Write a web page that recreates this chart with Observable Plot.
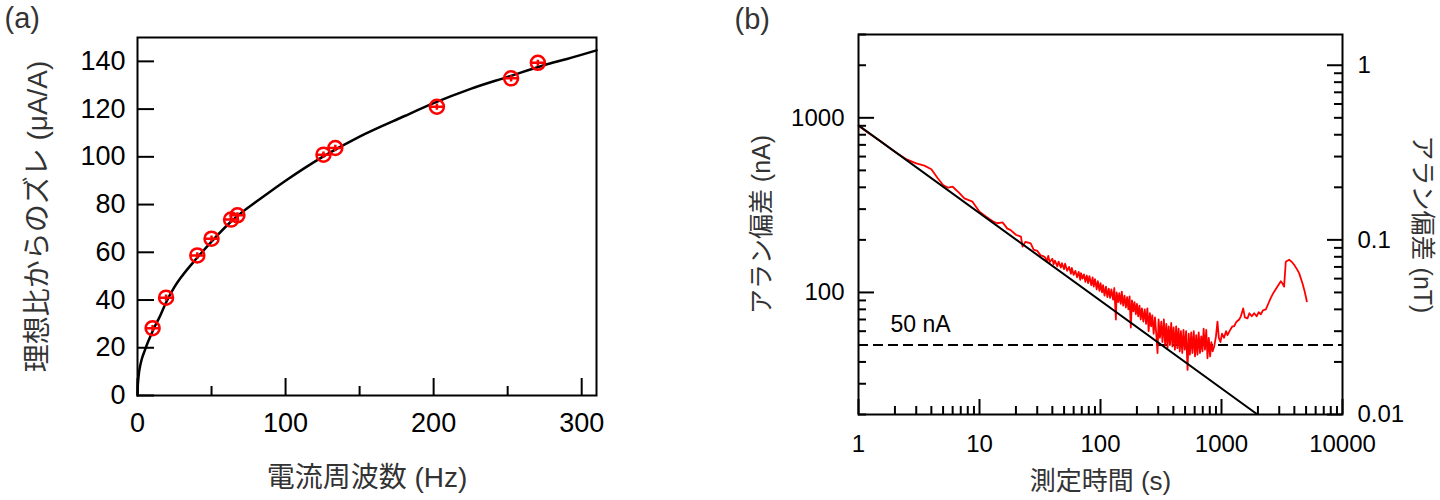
<!DOCTYPE html>
<html><head><meta charset="utf-8">
<script src="https://cdn.jsdelivr.net/npm/d3@7"></script>
<script src="https://cdn.jsdelivr.net/npm/@observablehq/plot@0.6"></script>
<style>
body{margin:0;background:#fff;}
#wrap{display:flex;width:1440px;height:500px;}
#wrap svg{display:block;flex:none;}
</style></head><body><div id="wrap"></div>
<script>
// ---------- Panel (a) data ----------
const freqHz    = [10.2, 19.3, 40.4, 50, 63.2, 67.5, 125.6, 133.6, 202.2, 252.3, 270.4];
const deviation = [28.2, 41.0, 58.7, 65.7, 73.7, 75.5, 100.9, 103.7, 121.0, 132.9, 139.4];
const fitF = [0, 0.2, 0.5, 1, 2, 3, 5, 7, 9, 12, 15, 19.3, 25, 30, 40, 50, 62.5, 70, 82, 100, 125, 150, 180, 200, 225, 250, 275, 290, 310];
const fitV = [0, 4, 6.5, 9.5, 13, 15.5, 19, 22.3, 25.2, 29.3, 33, 39, 45.5, 50, 57.5, 64.5, 72.5, 76.5, 82, 90, 100, 108.5, 117, 122.5, 128.5, 133.5, 138.5, 141, 144.6];
const xTicksA = [0, 100, 200, 300];
const xMinorA = [50, 150, 250];
const yTicksA = [0, 20, 40, 60, 80, 100, 120, 140];

// ---------- Panel (b) data ----------
const redTau = [1,1.2,1.5,2,2.5,3,3.5,4,4.5,5,5.5,6,6.8,7.5,8.75,10,11,12,13,14,15.5,17,18,20,22,22.7,24,26.5,28,30,32,34,
35,36,37,38,40,41,42,44,45,47,48,50,51,53,55,57,58,60,62,64,66,68,69,71,73,75,77,79,81,84,86,88,90,93,95,98,100,103,105,108,111,114,117,120,123,127,130,134,136,140,143,147,150,154,158,162,166,170,174,178,182,187,191,196,200,205,210,215,220,226,232,238,244,250,256,262,268,275,282,290,296,302,310,318,325,334,342,350,358,366,375,384,393,402,412,422,432,442,452,462,474,485,497,510,524,536,548,562,575,590,604,618,633,648,664,680,696,712,730,748,766,785,805,825,845,870,900,926,950,980,1010,1050,1090,1121,1180,1230,1271,1330,1400,1445,1510,1560,1640,1700,1780,1862,1950,2030,2113,2200,2325,2450,2555,2700,2901,3000,3091,3200,3291,3398,3620,3800,3984,4200,4380,4667,4876,5070];
const redSigma = [900,822,738,640,578,548,532,508,452,412,398,403,372,346,331,290,276,264,255,249,252,232,228,214,209,183,195,191,176,173,163,161,
158,150,162,149,156,145,152,141,150,139,147,136,146,133,140,128,138,126,133,122,131,118,129,120,127,115,125,113,124,110,122,108,119,104,116,102,113,100,110,96,108,94,105,93,104,91,106,70,100,88,99,86,101,84,96,82,94,80,95,63,90,78,88,75,86,73,84,70,81,68,80,66,81,60,76,64,74,58,72,56,45,70,55,68,52,70,50,66,48,64,50,67,49,63,47,64,48,62,46,60,45,61,47,60,36,58,44,59,45,60,43,57,44,59,45,56,46,62,47,61,42,55,43,52,46,49,56,68,55,52,58,55,60,57,61,64,64,68,70,73,81,72,71,76,73,76,73,77,75,79,80,87,93,100,108,112,116,112,108,150,154,150,144,136,129,113,101,89];
const powerTau = [1, 1985];
const powerSigma = [905, 20];
const limitNA = 50;
const nAperNT = 2000;
const xTicksB = [1, 10, 100, 1000, 10000];
const xMinorB = [2,3,4,5,6,7,8,9,20,30,40,50,60,70,80,90,200,300,400,500,600,700,800,900,2000,3000,4000,5000,6000,7000,8000,9000];
const yTicksB = [100, 1000];
const yMinorB = [20,30,40,50,60,70,80,90,200,300,400,500,600,700,800,900,2000,3000];
const nTTicks = [0.01, 0.1, 1];
const nTMinor = [0.02,0.03,0.04,0.05,0.06,0.07,0.08,0.09,0.2,0.3,0.4,0.5,0.6,0.7,0.8,0.9];

const FONT = "'Liberation Sans', 'Noto Sans CJK JP', Arial, sans-serif";
const titleFill = "#333";

const markerSym = {draw(ctx, size){
  const r = Math.sqrt(size/Math.PI);
  ctx.moveTo(r,0); ctx.arc(0,0,r,0,2*Math.PI);
  ctx.moveTo(-r,0); ctx.lineTo(r,0);
  ctx.moveTo(0,-r*0.45); ctx.lineTo(0,r*0.45);
}};

// ---------- Panel (a) ----------
const A = {w:720,h:500,ml:137,mr:124,mt:37,mb:105};
const aPH = A.h-A.mt-A.mb, aPW = A.w-A.ml-A.mr;
const aX = [0,310], aY = [0,150];
const pts = freqHz.map((f,i)=>({f, v: deviation[i]}));
const fit = fitF.map((f,i)=>({f, v: fitV[i]}));
const aTy = (px)=> aY[0] + px/aPH*(aY[1]-aY[0]);
const aTx = (px)=> aX[0] + px/aPW*(aX[1]-aX[0]);
const tickStyle = {stroke:"#000", strokeWidth:2};
const left = Plot.plot({
  width:A.w, height:A.h, marginLeft:A.ml, marginRight:A.mr, marginTop:A.mt, marginBottom:A.mb,
  x:{domain:aX}, y:{domain:aY},
  style:{fontFamily:FONT, color:"#000", background:"#fff", overflow:"visible"},
  marks:[
    Plot.axisX({ticks:xTicksA, tickSize:0, tickPadding:17, fontSize:27, label:null, tickFormat:d=>String(d)}),
    Plot.axisY({ticks:yTicksA, tickSize:0, tickPadding:12, fontSize:27, label:null, tickFormat:d=>String(d)}),
    Plot.ruleX(xTicksA, {x:d=>d, y1:aY[0], y2:aTy(17), ...tickStyle}),
    Plot.ruleX(xMinorA, {x:d=>d, y1:aY[0], y2:aTy(9), ...tickStyle}),
    Plot.ruleY(yTicksA, {y:d=>d, x1:aX[0], x2:aTx(17), ...tickStyle}),
    Plot.line(fit, {x:"f", y:"v", curve:"monotone-x", stroke:"#000", strokeWidth:2.5}),
    Plot.dot(pts, {x:"f", y:"v", r:7, symbol:markerSym, stroke:"#f00", strokeWidth:2.5, fill:"none"}),
    Plot.frame({stroke:"#000", strokeWidth:2}),
    Plot.text(["電流周波数 (Hz)"], {frameAnchor:"bottom", dy:83, lineAnchor:"middle", textAnchor:"middle", fontSize:28, fill:titleFill}),
    Plot.text(["理想比からのズレ (μA/A)"], {frameAnchor:"left", dx:-99, rotate:-90, lineAnchor:"middle", textAnchor:"middle", fontSize:28, fill:titleFill}),
    Plot.text(["(a)"], {frameAnchor:"top-left", dx:-133, dy:-19, lineAnchor:"middle", textAnchor:"start", fontSize:29, fill:titleFill})
  ]
});

// ---------- Panel (b) ----------
const B = {w:720,h:500,ml:138,mr:98,mt:34,mb:86};
const bPH = B.h-B.mt-B.mb, bPW = B.w-B.ml-B.mr;
const bX = [1,10000], bY = [20,3000];
const lx = Math.log10(bX[1]/bX[0]), ly = Math.log10(bY[1]/bY[0]);
const bTy = (px)=> bY[0]*Math.pow(10, px/bPH*ly);
const bTxL = (px)=> bX[0]*Math.pow(10, px/bPW*lx);
const bTxR = (px)=> bX[1]/Math.pow(10, px/bPW*lx);
const red = redTau.map((t,i)=>({t, s: redSigma[i]}));
const pow = powerTau.map((t,i)=>({t, s: powerSigma[i]}));
const nTpos = nTTicks.map(t=>t*nAperNT);
const nTminPos = nTMinor.map(t=>t*nAperNT);
const right = Plot.plot({
  width:B.w, height:B.h, marginLeft:B.ml, marginRight:B.mr, marginTop:B.mt, marginBottom:B.mb,
  x:{type:"log", domain:bX}, y:{type:"log", domain:bY},
  style:{fontFamily:FONT, color:"#000", background:"#fff", overflow:"visible"},
  marks:[
    Plot.axisX({ticks:xTicksB, tickSize:0, tickPadding:20, fontSize:24, label:null, tickFormat:d=>String(d)}),
    Plot.axisY({ticks:yTicksB, tickSize:0, tickPadding:14, fontSize:24, label:null, tickFormat:d=>String(d)}),
    Plot.axisY({anchor:"right", ticks:nTpos, tickSize:0, tickPadding:15, fontSize:24, label:null, tickFormat:d=>String(+(d/nAperNT).toPrecision(3))}),
    Plot.ruleX(xTicksB, {x:d=>d, y1:bY[0], y2:bTy(15), ...tickStyle}),
    Plot.ruleX(xMinorB, {x:d=>d, y1:bY[0], y2:bTy(8), ...tickStyle}),
    Plot.ruleY(yTicksB, {y:d=>d, x1:bX[0], x2:bTxL(16), ...tickStyle}),
    Plot.ruleY(yMinorB, {y:d=>d, x1:bX[0], x2:bTxL(8), ...tickStyle}),
    Plot.ruleY(nTpos, {y:d=>d, x1:bTxR(15), x2:bX[1], ...tickStyle}),
    Plot.ruleY(nTminPos, {y:d=>d, x1:bTxR(8), x2:bX[1], ...tickStyle}),
    Plot.ruleY([limitNA], {stroke:"#000", strokeWidth:2, strokeDasharray:"10,5"}),
    Plot.line(red, {x:"t", y:"s", stroke:"#f00", strokeWidth:1.8}),
    Plot.line(pow, {x:"t", y:"s", stroke:"#000", strokeWidth:2, clip:true}),
    Plot.text(["50 nA"], {frameAnchor:"left", y:65, dx:32, lineAnchor:"middle", textAnchor:"start", fontSize:23, fill:"#000"}),
    Plot.frame({stroke:"#000", strokeWidth:2}),
    Plot.text(["測定時間 (s)"], {frameAnchor:"bottom", dy:67, lineAnchor:"middle", textAnchor:"middle", fontSize:26, fill:titleFill}),
    Plot.text(["アラン偏差 (nA)"], {frameAnchor:"left", dx:-97, rotate:-90, lineAnchor:"middle", textAnchor:"middle", fontSize:25, fill:titleFill}),
    Plot.text(["アラン偏差 (nT)"], {frameAnchor:"right", dx:79, rotate:90, lineAnchor:"middle", textAnchor:"middle", fontSize:25, fill:titleFill}),
    Plot.text(["(b)"], {frameAnchor:"top-left", dx:-124, dy:-15, lineAnchor:"middle", textAnchor:"start", fontSize:29, fill:titleFill})
  ]
});
const wrap = document.getElementById("wrap");
wrap.appendChild(left);
wrap.appendChild(right);
</script></body></html>
